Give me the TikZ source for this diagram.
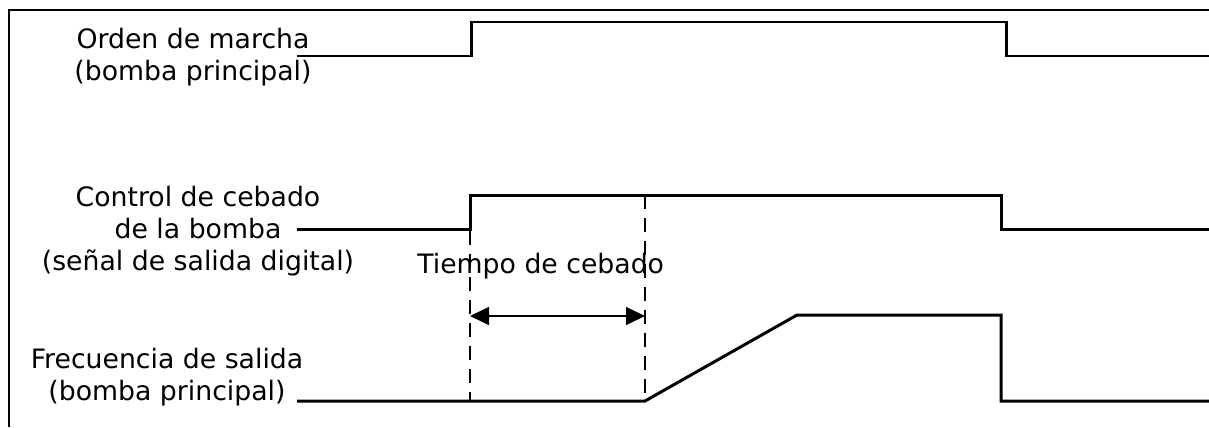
\documentclass[tikz,border=0pt]{standalone}
\usepackage{fontspec}
\setmainfont{DejaVu Sans}
\usetikzlibrary{arrows.meta,positioning}

\begin{document}
\begin{tikzpicture}[
  x=0.02cm, y=-0.02cm,
  frame/.style={line width=0.6pt},
  signal/.style={line width=1.7pt, line join=miter},
  guide/.style={line width=0.6pt, dash pattern=on 0.28cm off 0.18cm},
  txt/.style={inner sep=0pt, align=center, font=\fontsize{15.2}{18}\selectfont},
  span/.style={{Triangle[length=0.38cm,width=0.36cm]}-{Triangle[length=0.38cm,width=0.36cm]}, line width=0.8pt}
]
\useasboundingbox (0,0) rectangle (1209,427);
\draw[frame] (9,427) -- (9,10) -- (1209,10);
\node[txt, anchor=base] (marcha) at (193,80) {Orden de marcha\\(bomba principal)};
\node[txt, anchor=base] (cebado) at (198,270) {Control de cebado\\de la bomba\\(señal de salida digital)};
\node[txt, anchor=base] (frec) at (167,400) {Frecuencia de salida\\(bomba principal)};
\node[txt, anchor=base west] (tiempo) at (417,273) {Tiempo de cebado};
\draw[signal] (297,56) -- (471,56) -- (471,22) -- (1006,22) -- (1006,56) -- (1209,56);
\draw[signal] (297,229) -- (470,229) -- (470,195) -- (1001,195) -- (1001,229) -- (1209,229);
\draw[signal] (297,401) -- (645,401) -- (797,315) -- (1001,315) -- (1001,401) -- (1209,401);
\draw[guide] (470,231) -- (470,401);
\draw[guide] (645,195) -- (645,401);
\coordinate (tstart) at (470,316);
\coordinate (tend) at (645,316);
\draw[span] (tstart) -- (tend);
\end{tikzpicture}
\end{document}
